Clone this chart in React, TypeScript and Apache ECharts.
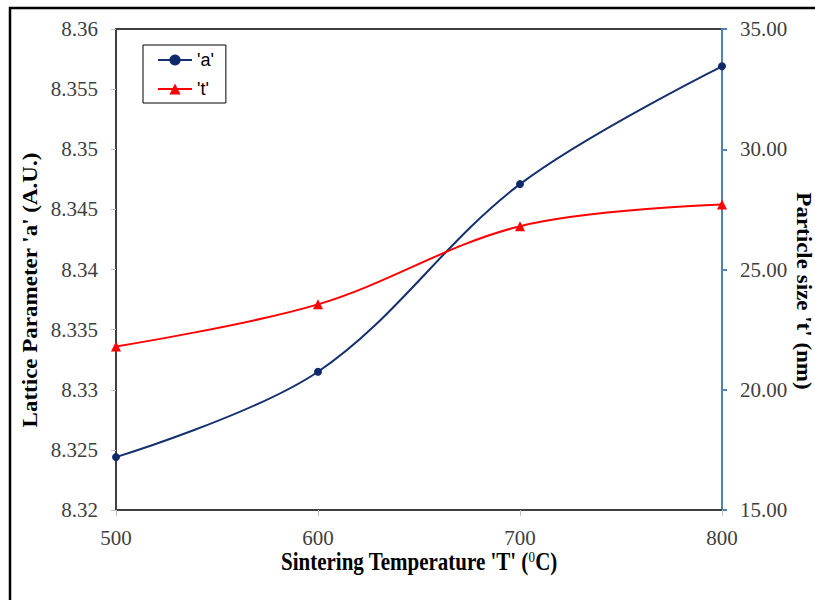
import React, { useEffect, useRef } from "react";
import * as echarts from "echarts";

const temperatures = [500, 600, 700, 800];
const latticeA = [8.3244, 8.3315, 8.3471, 8.3569];
const particleT = [21.8, 23.55, 26.8, 27.7];
const xTicks = { min: 500, max: 800, interval: 100 };
const leftTicks = { min: 8.32, max: 8.36, interval: 0.005 };
const rightTicks = { min: 15, max: 35, interval: 5 };

const SERIF = "Liberation Serif";
const SANS = "Liberation Sans";

export default function App() {
  const ref = useRef<HTMLDivElement>(null);
  useEffect(() => {
    document.body.style.margin = "0";
    const chart = echarts.init(ref.current!, null, { renderer: "svg" });
    const tickLabel = {
      fontFamily: SERIF,
      fontSize: 21,
      color: "#404040",
    };
    chart.setOption({
      animation: false,
      backgroundColor: "#ffffff",
      textStyle: { fontFamily: SERIF },
      grid: {
        left: 116,
        right: 93,
        top: 29,
        bottom: 90,
        show: true,
        borderColor: "#000000",
        borderWidth: 1.5,
        backgroundColor: "transparent",
      },
      legend: {
        left: 143,
        top: 45,
        orient: "vertical",
        borderColor: "#000000",
        borderWidth: 1,
        padding: [6, 12, 5, 14],
        itemWidth: 34,
        itemHeight: 14,
        itemGap: 11,
        textStyle: { fontFamily: SANS, fontSize: 18, lineHeight: 18, color: "#000" },
        data: ["'a'", "'t'"],
      },
      xAxis: {
        type: "value",
        min: xTicks.min,
        max: xTicks.max,
        interval: xTicks.interval,
        splitLine: { show: false },
        axisLine: { lineStyle: { color: "#404040", width: 1.5 } },
        axisTick: { show: true, length: 6, lineStyle: { color: "#bfbfbf" } },
        axisLabel: { ...tickLabel, margin: 17 },
      },
      yAxis: [
        {
          type: "value",
          position: "left",
          min: leftTicks.min,
          max: leftTicks.max,
          interval: leftTicks.interval,
          splitLine: { show: false },
          axisLine: { show: true, lineStyle: { color: "#404040", width: 2 } },
          axisTick: { show: true, length: 5, lineStyle: { color: "#bfbfbf" } },
          axisLabel: {
            ...tickLabel,
            margin: 18,
            formatter: (v: number) => String(parseFloat(v.toFixed(3))),
          },
        },
        {
          type: "value",
          position: "right",
          min: rightTicks.min,
          max: rightTicks.max,
          interval: rightTicks.interval,
          splitLine: { show: false },
          axisLine: { show: true, lineStyle: { color: "#4F81BD", width: 2 } },
          axisTick: { show: true, length: 5, lineStyle: { color: "#4F81BD", width: 2 } },
          axisLabel: {
            ...tickLabel,
            margin: 18,
            formatter: (v: number) => v.toFixed(2),
          },
        },
      ],
      series: [
        {
          name: "'a'",
          type: "line",
          yAxisIndex: 0,
          smooth: 0.35,
          data: temperatures.map((t, i) => [t, latticeA[i]]),
          symbol: "circle",
          symbolSize: 8,
          lineStyle: { color: "#14306E", width: 2 },
          itemStyle: { color: "#0E2A6B" },
        },
        {
          name: "'t'",
          type: "line",
          yAxisIndex: 1,
          smooth: 0.35,
          data: temperatures.map((t, i) => [t, particleT[i]]),
          symbol: "triangle",
          symbolSize: 10,
          lineStyle: { color: "#FF0000", width: 2 },
          itemStyle: { color: "#FF0000" },
        },
      ],
      graphic: [
        {
          type: "rect",
          x: 10,
          y: 8,
          shape: { width: 1000, height: 1000 },
          style: { fill: "none", stroke: "#000000", lineWidth: 2.5 },
          silent: true,
        },
        {
          type: "text",
          x: 419,
          y: 562,
          scaleY: 1.15,
          style: {
            text: "Sintering Temperature 'T' ({sup|0}C)",
            fontFamily: SERIF,
            fontSize: 21,
            fontWeight: "bold",
            fill: "#000",
            align: "center",
            verticalAlign: "middle",
            rich: {
              sup: { fontFamily: SERIF, fontSize: 13, fontWeight: "normal", verticalAlign: "top", padding: [0, 0, 8, 0] },
            },
          },
        },
        {
          type: "text",
          x: 30,
          y: 290,
          rotation: Math.PI / 2,
          scaleX: 1.15,
          scaleY: 1.1,
          style: {
            text: "Lattice Parameter 'a' (A.U.)",
            fontFamily: SERIF,
            fontSize: 20,
            fontWeight: "bold",
            fill: "#000",
            align: "center",
            verticalAlign: "middle",
          },
        },
        {
          type: "text",
          x: 804,
          y: 291,
          rotation: -Math.PI / 2,
          scaleX: 1.15,
          scaleY: 1.1,
          style: {
            text: "Particle size 't' (nm)",
            fontFamily: SERIF,
            fontSize: 20,
            fontWeight: "bold",
            fill: "#000",
            align: "center",
            verticalAlign: "middle",
          },
        },
      ],
    });
    return () => chart.dispose();
  }, []);
  return <div ref={ref} style={{ width: 815, height: 600 }} />;
}
